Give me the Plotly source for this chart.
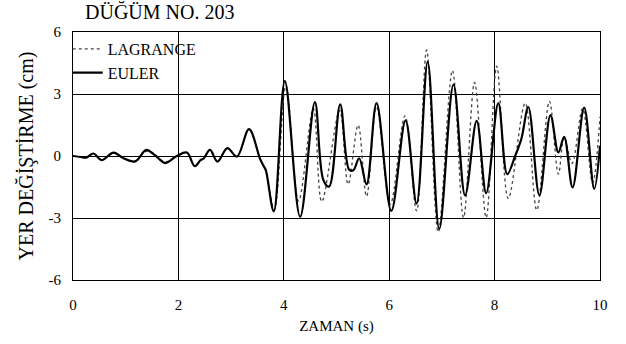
import plotly.graph_objects as go

# Time (s) and displacement (cm) readings
euler_t = [0.00, 0.15, 0.25, 0.39, 0.54, 0.77, 0.95, 1.18, 1.39, 1.55, 1.75, 1.97,
           2.16, 2.31, 2.42, 2.48, 2.60, 2.74, 2.93, 3.11, 3.34, 3.55, 3.62, 3.66, 3.81,
           4.02, 4.31, 4.59, 4.75, 4.86, 5.07, 5.24, 5.32, 5.43, 5.57, 5.76, 6.04,
           6.31, 6.52, 6.73, 6.95, 7.22, 7.44, 7.66, 7.84, 8.07, 8.24, 8.39, 8.51,
           8.64, 8.85, 9.06, 9.21, 9.32, 9.48, 9.70, 9.89, 10.00]
euler_v = [0.00, -0.05, -0.08, 0.12, -0.20, 0.16, -0.10, -0.26, 0.30, 0.05, -0.34, 0.00,
           0.17, -0.49, -0.20, -0.12, 0.30, -0.27, 0.38, -0.03, 1.30, -0.14, -0.50, -0.70, -2.68,
           3.62, -2.94, 2.61, -1.16, -1.48, 2.50, -0.66, -0.69, -0.11, -1.37, 2.56, -2.66,
           1.72, -2.30, 4.55, -3.53, 3.46, -1.90, 1.70, -1.80, 2.56, -0.88, 0.00, 0.85,
           2.37, -1.90, 1.98, 0.17, 0.93, -1.52, 2.34, -1.59, 0.49]

lagrange_t = [0.00, 0.15, 0.25, 0.39, 0.54, 0.77, 0.95, 1.18, 1.39, 1.55, 1.75, 1.97,
              2.16, 2.31, 2.42, 2.48, 2.60, 2.74, 2.93, 3.11, 3.34, 3.55, 3.62, 3.66, 3.82,
              4.04, 4.28, 4.56, 4.72, 5.06, 5.22, 5.41, 5.57, 5.76, 6.02,
              6.30, 6.52, 6.71, 6.93, 7.20, 7.41, 7.62, 7.84, 8.04, 8.26,
              8.58, 8.80, 9.04, 9.21, 9.32, 9.47, 9.67, 9.86, 10.00]
lagrange_v = [0.00, -0.05, -0.08, 0.12, -0.20, 0.16, -0.10, -0.26, 0.22, 0.05, -0.28, 0.00,
              0.17, -0.49, -0.20, -0.12, 0.30, -0.27, 0.38, -0.03, 1.30, -0.14, -0.50, -0.70, -2.60,
              3.40, -2.18, 2.30, -2.21, 2.20, -1.37, 1.50, -1.95, 2.37, -2.34,
              1.94, -2.66, 5.13, -3.68, 4.14, -2.98, 3.56, -2.98, 4.35, -2.06,
              2.56, -2.62, 2.65, -0.88, 0.90, -0.35, 2.30, -1.30, 1.90]

x_ticks = [0, 2, 4, 6, 8, 10]
x_tick_text = ["0", "2", "4", "6", "8", "10"]
y_ticks = [-6, -3, 0, 3, 6]
y_tick_text = ["-6", "-3", "0", "3", "6"]

FONT = "Liberation Serif"

fig = go.Figure()
fig.add_trace(go.Scatter(
    x=lagrange_t, y=lagrange_v, name="LAGRANGE", mode="lines",
    line=dict(color="#444444", width=1.3, dash="dot", shape="spline", smoothing=1.0),
    legendgroup="a"))
fig.add_trace(go.Scatter(
    x=euler_t, y=euler_v, name="EULER", mode="lines",
    line=dict(color="black", width=2.2, shape="spline", smoothing=1.0),
    legendgroup="b"))

axis_common = dict(showline=True, linecolor="black", linewidth=1.2, mirror=True,
                   showgrid=True, gridcolor="black", gridwidth=1, zeroline=False,
                   ticks="", tickfont=dict(family=FONT, size=15, color="black"))

fig.update_layout(
    width=626, height=344,
    margin=dict(l=73, r=26, t=32, b=62),
    paper_bgcolor="white", plot_bgcolor="white",
    font=dict(family=FONT, color="black"),
    title=dict(text="DÜĞÜM NO. 203", x=85/626, xanchor="left", xref="container",
               y=1-12/344, yref="container", yanchor="middle",
               font=dict(family=FONT, size=20, color="black")),
    xaxis=dict(range=[0, 10], tickvals=x_ticks, ticktext=x_tick_text, ticklabelstandoff=11,
               **axis_common,
               title=dict(text="ZAMAN (s)", font=dict(family=FONT, size=15), standoff=8)),
    yaxis=dict(range=[-6, 6], tickvals=y_ticks, ticktext=y_tick_text, ticklabelstandoff=8,
               **axis_common,
               title=dict(text="YER DEĞİŞTİRME (cm)", font=dict(family=FONT, size=20), standoff=9)),
    legend=dict(x=-0.01, y=1.0, xanchor="left", yanchor="top", bgcolor="rgba(0,0,0,0)",
                borderwidth=0, font=dict(family=FONT, size=16, color="black"),
                tracegroupgap=2, itemwidth=30, traceorder="normal"),
    showlegend=True,
)

fig.write_html("out.html")
